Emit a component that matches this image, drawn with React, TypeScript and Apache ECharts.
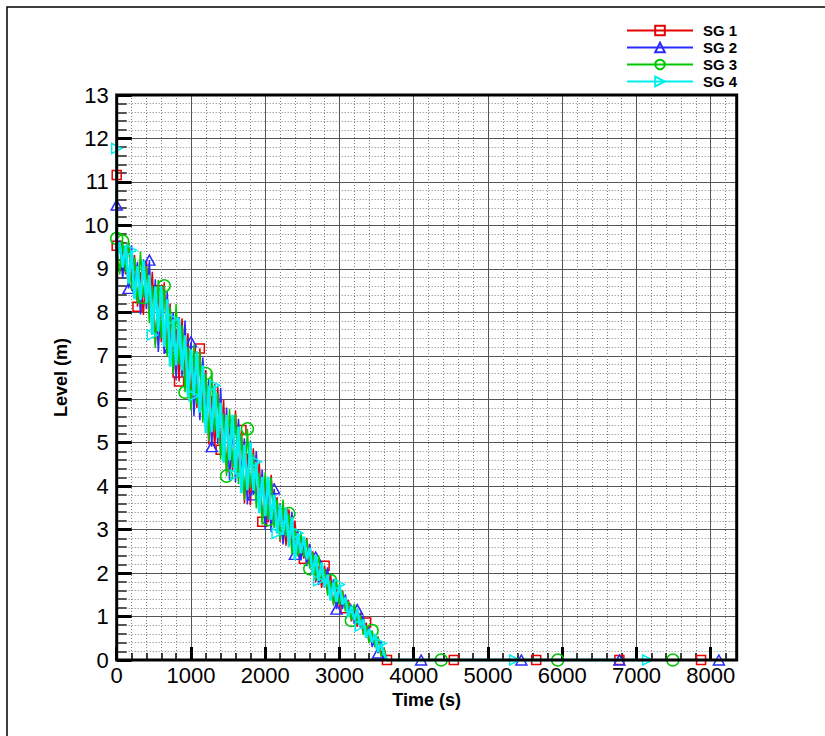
import { useEffect, useRef } from "react";
import * as echarts from "echarts";

// ---------- data ----------
const TIMES = [
  0, 40, 80, 120, 160, 200, 240, 280, 320, 360,
  400, 440, 480, 520, 560, 600, 640, 680, 720, 760,
  800, 840, 880, 920, 960, 1000, 1040, 1080, 1120, 1160,
  1200, 1240, 1280, 1320, 1360, 1400, 1440, 1480, 1520, 1560,
  1600, 1640, 1680, 1720, 1760, 1800, 1840, 1880, 1920, 1960,
  2000, 2040, 2080, 2120, 2160, 2200, 2240, 2280, 2320, 2360,
  2400, 2440, 2480, 2520, 2560, 2600, 2640, 2680, 2720, 2760,
  2800, 2840, 2880, 2920, 2960, 3000, 3040, 3080, 3120, 3160,
  3200, 3240, 3280, 3320, 3360, 3400, 3440, 3480, 3520, 3560,
  3600, 3640,
];

const SG1_LEVEL = [
  9.53, 8.92, 9.5, 8.87, 9.6, 8.72, 9.32, 8.13, 8.92, 7.94,
  9.21, 7.98, 8.93, 7.26, 8.51, 7.31, 8.69, 7.23, 8.2, 6.49,
  7.62, 6.41, 7.86, 6.39, 7.52, 5.82, 7.03, 5.8, 7.17, 5.71,
  6.67, 4.96, 6.08, 4.87, 6.31, 4.84, 5.99, 4.31, 5.55, 4.34,
  5.74, 4.3, 5.29, 3.6, 4.75, 3.56, 4.87, 3.68, 4.56, 3.18,
  4.13, 3.17, 4.26, 3.19, 3.75, 2.72, 3.37, 2.63, 3.46, 2.57,
  3.21, 2.43, 2.83, 2.33, 2.81, 2.21, 2.5, 1.79, 2.16, 1.66,
  2.17, 1.59, 1.98, 1.29, 1.71, 1.23, 1.61, 1.19, 1.38, 0.89,
  1.13, 0.76, 1.09, 0.66, 0.86, 0.4, 0.62, 0.29, 0.54, 0.15,
  0.28, 0.0,
];
const SG2_LEVEL = [
  9.27, 9.65, 8.78, 9.35, 8.55, 9.54, 8.68, 9.16, 7.95, 9.22,
  8.07, 9.2, 7.6, 8.76, 7.09, 8.32, 7.04, 8.48, 7.19, 7.99,
  6.45, 7.89, 6.52, 7.81, 6.19, 7.32, 5.61, 6.81, 5.52, 6.96,
  5.66, 6.46, 4.91, 6.35, 4.97, 6.26, 4.66, 5.81, 4.13, 5.35,
  4.09, 5.55, 4.28, 5.1, 3.58, 5.04, 3.8, 4.81, 3.5, 4.38,
  3.0, 3.97, 2.94, 3.94, 3.13, 3.6, 2.66, 3.5, 2.66, 3.41,
  2.43, 3.0, 2.29, 2.69, 2.16, 2.67, 2.14, 2.37, 1.73, 2.24,
  1.67, 2.13, 1.47, 1.86, 1.17, 1.59, 1.17, 1.51, 1.13, 1.27,
  0.83, 1.16, 0.75, 1.02, 0.56, 0.75, 0.3, 0.5, 0.16, 0.43,
  0.12, 0.0,
];
const SG3_LEVEL = [
  9.57, 8.87, 9.64, 8.92, 9.63, 8.52, 9.26, 8.2, 9.4, 8.34,
  9.05, 7.75, 8.61, 7.18, 8.74, 7.39, 8.61, 6.98, 8.12, 6.57,
  8.19, 6.81, 7.7, 6.16, 7.2, 5.74, 7.26, 5.88, 7.09, 5.46,
  6.59, 5.04, 6.65, 5.27, 6.15, 4.61, 5.67, 4.23, 5.78, 4.42,
  5.66, 4.05, 5.21, 3.68, 5.32, 3.96, 4.74, 3.49, 4.3, 3.12,
  4.32, 3.23, 4.2, 3.04, 3.69, 2.76, 3.69, 2.85, 3.37, 2.44,
  3.03, 2.39, 2.94, 2.37, 2.77, 2.1, 2.47, 1.83, 2.41, 1.84,
  2.1, 1.48, 1.83, 1.25, 1.82, 1.27, 1.59, 1.12, 1.35, 0.91,
  1.29, 0.88, 1.04, 0.58, 0.77, 0.39, 0.68, 0.31, 0.53, 0.08,
  0.26, 0.0,
];
const SG4_LEVEL = [
  9.21, 9.61, 9.04, 9.54, 8.66, 9.43, 8.3, 9.06, 8.28, 9.19,
  8.21, 8.86, 7.48, 8.59, 7.56, 8.61, 7.21, 8.3, 6.75, 7.84,
  6.78, 7.86, 6.66, 7.47, 6.07, 7.15, 6.08, 7.1, 5.69, 6.78,
  5.22, 6.31, 5.24, 6.32, 5.11, 5.92, 4.54, 5.64, 4.6, 5.64,
  4.26, 5.37, 3.84, 4.95, 3.91, 5.01, 3.9, 4.56, 3.38, 4.21,
  3.31, 4.22, 3.23, 3.8, 2.91, 3.57, 2.88, 3.5, 2.61, 3.28,
  2.3, 2.92, 2.46, 2.84, 2.32, 2.58, 1.96, 2.41, 1.82, 2.24,
  1.68, 1.96, 1.37, 1.78, 1.34, 1.74, 1.28, 1.44, 0.99, 1.24,
  0.92, 1.16, 0.78, 0.93, 0.51, 0.71, 0.41, 0.6, 0.19, 0.38,
  0.13, 0.0,
];

// first recorded sample at t = 0 (spike above the band)
const SG1_START = 11.16;
const SG2_START = 10.47;
const SG3_START = 9.7;
const SG4_START = 11.77;

// times after drainage where the level stays at 0
const SG1_TAIL = [4540, 5650, 6770, 7870];
const SG2_TAIL = [4100, 5450, 6770, 8110];
const SG3_TAIL = [4370, 5940, 7490];
const SG4_TAIL = [5360, 7150];

const NAMES = ["SG 1", "SG 2", "SG 3", "SG 4"];
const X_MAX = 8350;
const Y_MAX = 13;

// ---------- layout / style ----------
const GL = 116.7;
const GT = 95;
const GW = 620;
const GH = 565;
const FONT = "'Liberation Sans', Arial, Helvetica, sans-serif";
const MARK_EVERY = 7;

const COLORS = ["#e80000", "#2b2bff", "#00c800", "#00eeee"];
const SYMBOLS = ["rect", "triangle", "circle", "path://M0,0L10,5L0,10Z"];
const SYMBOL_SIZES: any[] = [9, [11, 10], 12, [10, 10]];
const MARK_OFFSETS = [0, 3, 5, 2];
const LINE_WIDTHS = [1.5, 1.5, 1.5, 2.6];

function buildData(start: number, levels: number[], tail: number[], offset: number) {
  const out: any[] = [{ value: [0, start] }];
  TIMES.forEach((t, i) => {
    const item: any = { value: [t, levels[i]] };
    if ((i + offset) % MARK_EVERY !== 0) item.symbol = "none";
    out.push(item);
  });
  tail.forEach((t) => out.push({ value: [t, 0] }));
  return out;
}

const fmt = (v: number) => String(v);

export default function App() {
  const ref = useRef<HTMLDivElement>(null);
  useEffect(() => {
    const chart = echarts.init(ref.current!, null, { renderer: "svg" });
    const starts = [SG1_START, SG2_START, SG3_START, SG4_START];
    const levels = [SG1_LEVEL, SG2_LEVEL, SG3_LEVEL, SG4_LEVEL];
    const tails = [SG1_TAIL, SG2_TAIL, SG3_TAIL, SG4_TAIL];

    const series = NAMES.map((name, s) => ({
      name,
      type: "line",
      xAxisIndex: 1,
      yAxisIndex: 0,
      data: buildData(starts[s], levels[s], tails[s], MARK_OFFSETS[s]),
      symbol: SYMBOLS[s],
      symbolSize: SYMBOL_SIZES[s],
      showSymbol: true,
      clip: false,
      silent: true,
      color: COLORS[s],
      lineStyle: { color: COLORS[s], width: LINE_WIDTHS[s] },
      itemStyle: { color: "rgba(255,255,255,0)", borderColor: COLORS[s], borderWidth: 1.5 },
      emphasis: { disabled: true },
      z: 2 + s,
    }));

    const option: any = {
      animation: false,
      backgroundColor: "#ffffff",
      textStyle: { fontFamily: FONT },
      grid: { left: GL, top: GT, width: GW, height: GH, containLabel: false },
      legend: {
        data: NAMES,
        orient: "vertical",
        left: 626,
        top: 23,
        padding: 0,
        itemWidth: 66,
        itemHeight: 12,
        itemGap: 2,
        selectedMode: false,
        textStyle: { fontFamily: FONT, fontWeight: "bold", fontSize: 15, color: "#000", padding: [0, 0, 0, 5] },
      },
      xAxis: [
        {
          type: "value",
          position: "bottom",
          min: 0,
          max: X_MAX,
          interval: 200,
          axisLine: { show: false },
          axisTick: { show: true, inside: true, length: 7, lineStyle: { color: "#000", width: 1.5 } },
          axisLabel: { show: false },
          splitLine: { show: true, lineStyle: { color: "#808080", type: [1, 2], width: 1 } },
        },
        {
          type: "value",
          position: "bottom",
          min: 0,
          max: X_MAX,
          interval: 1000,
          axisLine: { show: false },
          axisTick: { show: true, inside: true, length: 13, lineStyle: { color: "#000", width: 3 } },
          axisLabel: { show: true, fontSize: 22, color: "#000", margin: 4, showMaxLabel: false, fontFamily: FONT, formatter: fmt },
          splitLine: { show: true, lineStyle: { color: "#555", width: 1 } },
          name: "Time (s)",
          nameLocation: "middle",
          nameGap: 29,
          nameTextStyle: { fontSize: 18, fontWeight: "bold", color: "#000", fontFamily: FONT },
        },
      ],
      yAxis: [
        {
          type: "value",
          min: 0,
          max: Y_MAX,
          interval: 1,
          axisLine: { show: false },
          axisTick: { show: true, inside: true, length: 15, lineStyle: { color: "#000", width: 3 } },
          minorTick: { show: true, splitNumber: 5, length: 10, lineStyle: { color: "#555", width: 2 } },
          axisLabel: { show: true, fontSize: 22, color: "#000", margin: 8, fontFamily: FONT, formatter: fmt },
          splitLine: { show: true, lineStyle: { color: "#555", width: 1 } },
          minorSplitLine: { show: true, lineStyle: { color: "#808080", type: [1, 2], width: 1 } },
          name: "Level (m)",
          nameLocation: "middle",
          nameGap: 47,
          nameRotate: 90,
          nameTextStyle: { fontSize: 18, fontWeight: "bold", color: "#000", fontFamily: FONT },
        },
      ],
      graphic: [
        {
          type: "rect",
          silent: true,
          z: -1,
          shape: { x: 7, y: 7, width: 1000, height: 1000 },
          style: { fill: "none", stroke: "#000", lineWidth: 1.5 },
        },
        {
          type: "rect",
          silent: true,
          z: 100,
          shape: { x: GL, y: GT, width: GW, height: GH },
          style: { fill: "none", stroke: "#000", lineWidth: 3 },
        },
      ],
      series,
    };
    chart.setOption(option);
    return () => chart.dispose();
  }, []);
  return (
    <div
      ref={ref}
      style={{ position: "absolute", left: 0, top: 0, width: 825, height: 736, background: "#fff" }}
    />
  );
}
